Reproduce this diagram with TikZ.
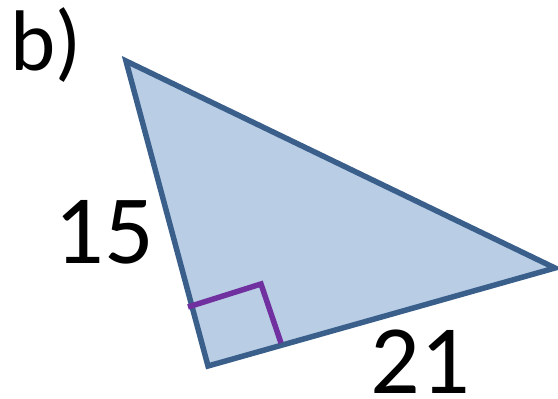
\documentclass[tikz,border=0pt]{standalone}
\usepackage{fontspec}
\setmainfont{Carlito}
\definecolor{triFill}{HTML}{B9CDE5}
\definecolor{triLine}{HTML}{3A5F8B}
\definecolor{markPurple}{HTML}{7030A0}
\begin{document}
\begin{tikzpicture}[x=1pt,y=-1pt,
  lbl/.style={inner sep=0pt,anchor=base,font=\fontsize{98}{98}\selectfont},
  tri/.style={draw=triLine,fill=triFill,line width=5.5pt,line join=miter},
  rightmark/.style={draw=markPurple,line width=5.5pt}]
\useasboundingbox (0,0) rectangle (558,399);
\coordinate (A) at (126,61);
\coordinate (B) at (208,366);
\coordinate (C) at (555,268);
\draw[tri] (A) -- (B) -- (C) -- cycle;
\coordinate (M1) at (188,307);
\coordinate (M2) at (261,284);
\coordinate (M3) at (281,343);
\draw[rightmark] (M1) -- (M2) -- (M3);
\node[lbl,anchor=base west,font=\fontsize{86}{86}\selectfont] (b) at (10,70) {b)};
\node[lbl] (l15) at (104,263) {15};
\node[lbl] (l21) at (420,393) {21};
\end{tikzpicture}
\end{document}
